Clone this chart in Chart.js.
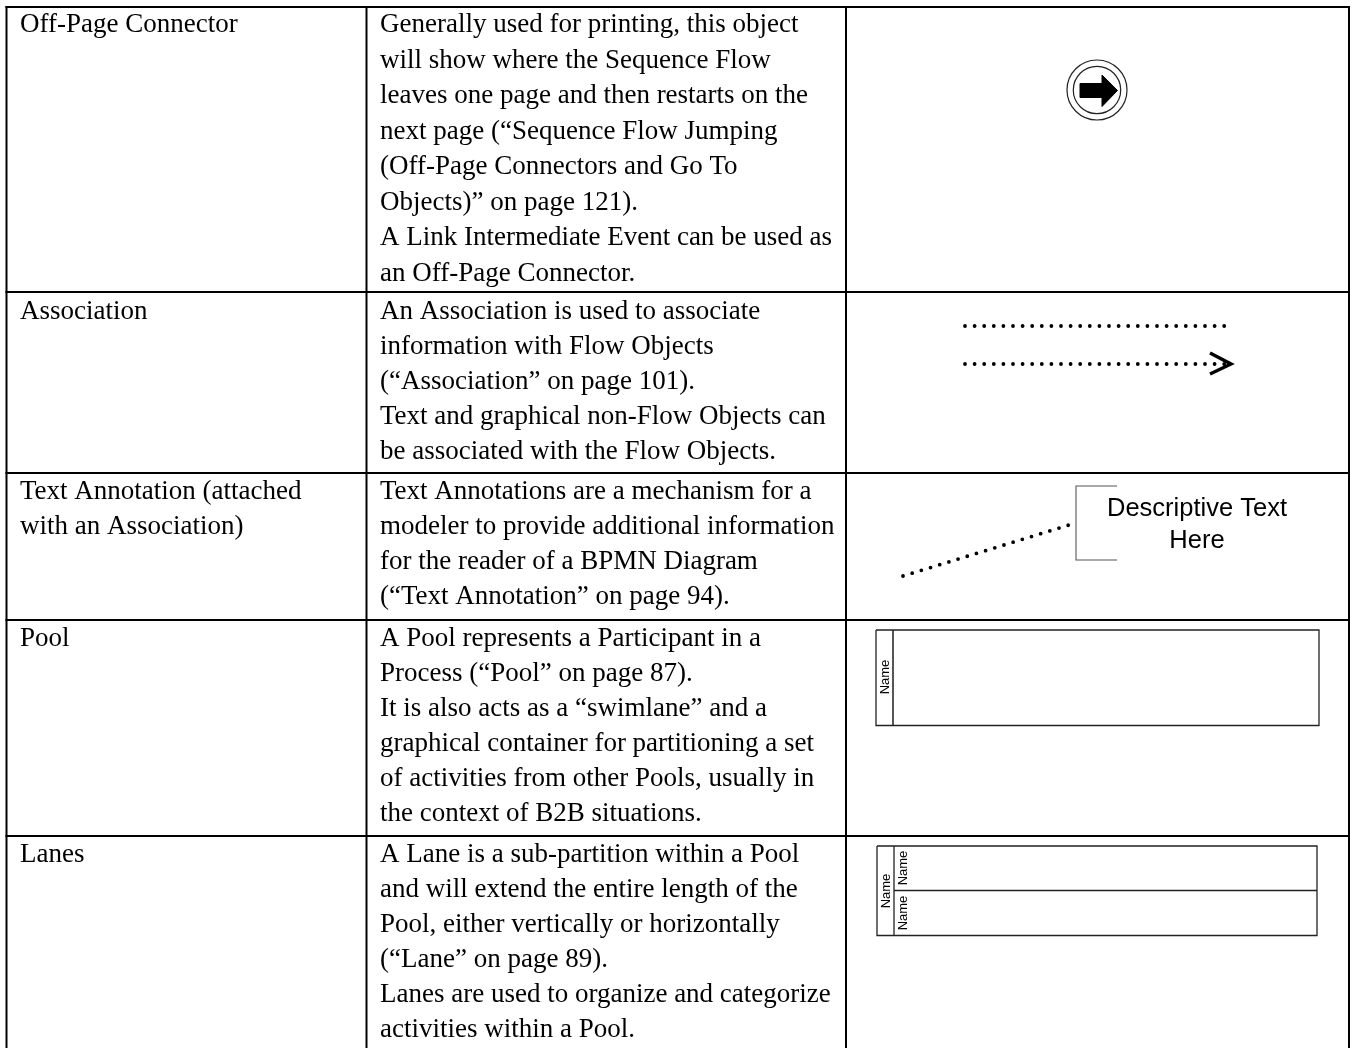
<!DOCTYPE html>
<html><head><meta charset="utf-8">
<style>html,body{margin:0;padding:0;background:#fff;overflow:hidden}#w{position:absolute;left:0;top:0;width:1353px;height:1048px}</style>
<script src="https://cdn.jsdelivr.net/npm/chart.js@4"></script></head>
<body><div id="w"><canvas id="c"></canvas></div>
<script>
const columnLines = [6.5, 366.5, 846, 1349];
const rowLines = [7, 292, 473, 620, 836, 1047];
const col1Text = [
 [20, 25, "Off-Page Connector"],
 [20, 312, "Association"],
 [20, 492, "Text Annotation (attached"],
 [20, 527, "with an Association)"],
 [20, 639, "Pool"],
 [20, 855, "Lanes"]
];
const col2Text = [
 [25, "Generally used for printing, this object"],
 [60.5, "will show where the Sequence Flow"],
 [96, "leaves one page and then restarts on the"],
 [131.5, "next page (“Sequence Flow Jumping"],
 [167, "(Off-Page Connectors and Go To"],
 [202.5, "Objects)” on page 121)."],
 [238, "A Link Intermediate Event can be used as"],
 [273.5, "an Off-Page Connector."],
 [312, "An Association is used to associate"],
 [347, "information with Flow Objects"],
 [382, "(“Association” on page 101)."],
 [417, "Text and graphical non-Flow Objects can"],
 [452, "be associated with the Flow Objects."],
 [492, "Text Annotations are a mechanism for a"],
 [527, "modeler to provide additional information"],
 [562, "for the reader of a BPMN Diagram"],
 [597, "(“Text Annotation” on page 94)."],
 [639, "A Pool represents a Participant in a"],
 [674, "Process (“Pool” on page 87)."],
 [709, "It is also acts as a “swimlane” and a"],
 [744, "graphical container for partitioning a set"],
 [779, "of activities from other Pools, usually in"],
 [814, "the context of B2B situations."],
 [855, "A Lane is a sub-partition within a Pool"],
 [890, "and will extend the entire length of the"],
 [925, "Pool, either vertically or horizontally"],
 [960, "(“Lane” on page 89)."],
 [995, "Lanes are used to organize and categorize"],
 [1030, "activities within a Pool."]
];
const annotationText = [[1197, 509, "Descriptive Text"], [1197, 541, "Here"]];
const nameLabels = [[885, 677], [886, 891], [903, 868], [903, 913]];
const connectorCentre = [{x: 1097, y: 90}];
const arrowShape = [[1080,83.5],[1102,83.5],[1102,75],[1117.5,90.5],[1102,106.5],[1102,97.5],[1080,97.5],[1080,83.5]];
const associationPlain = [[965,326],[1225,326]];
const associationArrow = [[965,364],[1225,364]];
const chevron = [[1210,353],[1231,364],[1210,374]];
const annotationDots = [[903,576],[1069,525]];
const annotationBracket = [[1117,486],[1076,486],[1076,560],[1117,560]];
const poolBox = [[876,630],[1319,630],[1319,725.5],[876,725.5],[876,630]];
const poolDivider = [[893,630],[893,725.5]];
const laneBox = [[877,846],[1317,846],[1317,935.5],[877,935.5],[877,846]];
const laneDivider = [[894,846],[894,935.5]];
const laneMiddle = [[894,890.5],[1317,890.5]];

const pts = a => a.map(p => ({x: p[0], y: p[1]}));
const ln = (a, w, c, extra) => Object.assign({type:'line', data:pts(a), borderColor:c||'#000', borderWidth:w, pointRadius:0, tension:0, fill:false, parsing:false}, extra||{});

const datasets = [];
columnLines.forEach(x => datasets.push(ln([[x,rowLines[0]-1],[x,rowLines[rowLines.length-1]+1]], 2)));
rowLines.slice(0,5).forEach(y => datasets.push(ln([[columnLines[0]-1,y],[columnLines[3]+1,y]], 2)));
datasets.push({type:'scatter', data:connectorCentre, pointRadius:30, pointStyle:'circle', pointBorderColor:'#222', pointBorderWidth:1.2, pointBackgroundColor:'rgba(0,0,0,0)', showLine:false});
datasets.push({type:'scatter', data:connectorCentre, pointRadius:23.7, pointStyle:'circle', pointBorderColor:'#222', pointBorderWidth:1.2, pointBackgroundColor:'rgba(0,0,0,0)', showLine:false});
datasets.push(ln(arrowShape, 1, '#000', {fill:'shape', backgroundColor:'#000'}));
const dotted = {borderDash:[0,9.6], borderCapStyle:'round'};
datasets.push(ln(associationPlain, 3.8, '#000', dotted));
datasets.push(ln(associationArrow, 3.8, '#000', dotted));
datasets.push(ln(chevron, 3.4, '#000'));
datasets.push(ln(annotationDots, 3.8, '#000', {borderDash:[0,9.6], borderCapStyle:'round'}));
datasets.push(ln(annotationBracket, 1.1, '#555'));
datasets.push(ln(poolBox, 1.3, '#222'));
datasets.push(ln(poolDivider, 1.8, '#444'));
datasets.push(ln(laneBox, 1.3, '#222'));
datasets.push(ln(laneDivider, 1.3, '#222'));
datasets.push(ln(laneMiddle, 1.3, '#222'));

const textPlugin = {
  id:'tableText',
  afterDatasetsDraw(chart){
    const {ctx, scales:{x, y}} = chart;
    ctx.save();
    ctx.fillStyle='#000';
    ctx.textBaseline='middle';
    ctx.textAlign='left';
    ctx.font='27px "Liberation Serif"';
    col1Text.forEach(t => ctx.fillText(t[2], x.getPixelForValue(t[0]), y.getPixelForValue(t[1])));
    col2Text.forEach(t => ctx.fillText(t[1], x.getPixelForValue(380), y.getPixelForValue(t[0])));
    ctx.textAlign='center';
    ctx.font='25.5px "Liberation Sans"';
    annotationText.forEach(t => ctx.fillText(t[2], x.getPixelForValue(t[0]), y.getPixelForValue(t[1])));
    ctx.font='13px "Liberation Sans"';
    nameLabels.forEach(t => {
      ctx.save();
      ctx.translate(x.getPixelForValue(t[0]), y.getPixelForValue(t[1]));
      ctx.rotate(-Math.PI/2);
      ctx.fillText('Name', 0, 0);
      ctx.restore();
    });
    ctx.restore();
  }
};

new Chart(document.getElementById('c'), {
  type:'scatter',
  data:{datasets},
  options:{
    responsive:true, maintainAspectRatio:false, animation:false,
    layout:{padding:0, autoPadding:false},
    plugins:{legend:{display:false}, tooltip:{enabled:false}, title:{display:false}},
    scales:{
      x:{type:'linear', min:0, max:1353, display:false},
      y:{type:'linear', min:0, max:1048, reverse:true, display:false}
    }
  },
  plugins:[textPlugin]
});
</script></body></html>
